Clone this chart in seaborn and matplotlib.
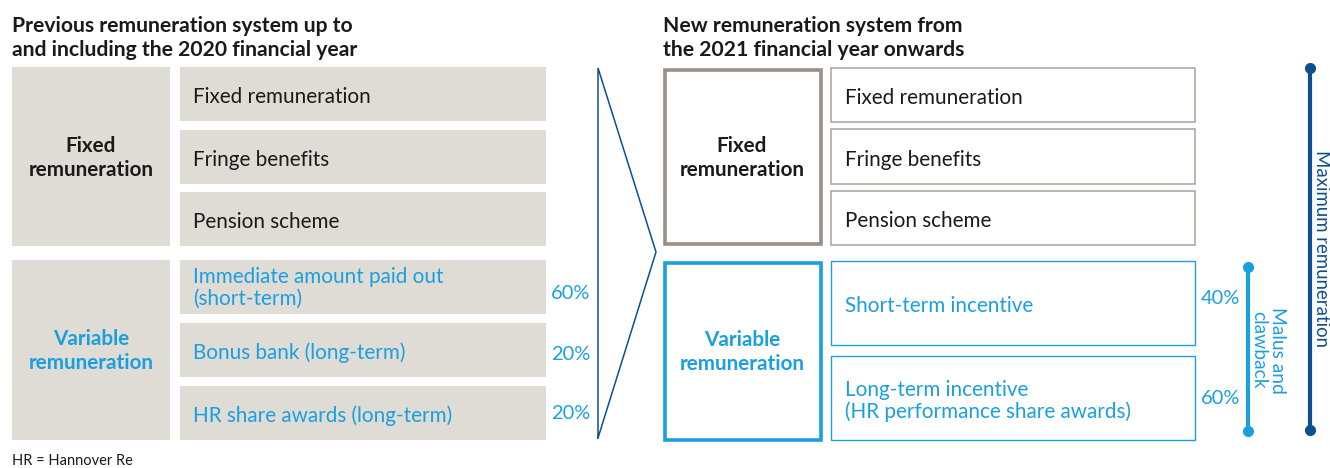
import matplotlib
matplotlib.use("Agg")
import matplotlib.pyplot as plt
import seaborn as sns
from matplotlib.patches import Rectangle

# Data
old_title = "Previous remuneration system up to\nand including the 2020 financial year"
new_title = "New remuneration system from\nthe 2021 financial year onwards"
groups = ["Fixed\nremuneration", "Variable\nremuneration"]
old_fixed = ["Fixed remuneration", "Fringe benefits", "Pension scheme"]
old_variable = ["Immediate amount paid out\n(short-term)", "Bonus bank (long-term)", "HR share awards (long-term)"]
old_variable_share = ["60%", "20%", "20%"]
new_fixed = ["Fixed remuneration", "Fringe benefits", "Pension scheme"]
new_variable = ["Short-term incentive", "Long-term incentive\n(HR performance share awards)"]
new_variable_share = ["40%", "60%"]
malus_label = "Malus and\nclawback"
max_label = "Maximum remuneration"
footnote = "HR = Hannover Re"

sns.set_theme(style="white")
plt.rcParams["font.family"] = ["Lato", "DejaVu Sans"]

GREY = "#dfdbd5"
TEXT = "#1a1a1a"
BLUE = "#1a9fe0"
DARK = "#0d4f8f"
BROWN = "#9a9086"
THIN_GREY = "#a8a29b"

fig = plt.figure(figsize=(13.3, 4.68), dpi=100)
ax = fig.add_axes([0, 0, 1, 1])
ax.set_xlim(0, 1330)
ax.set_ylim(468, 0)
ax.axis("off")

FS = 14.9

# titles
ax.text(12, 38, old_title, fontsize=15.2, fontweight="bold", color=TEXT, va="center", ha="left", linespacing=1.2)
ax.text(663, 38, new_title, fontsize=15.2, fontweight="bold", color=TEXT, va="center", ha="left", linespacing=1.2)

# ---------- left side ----------
sections = [(67, 246, old_fixed, TEXT), (260, 440, old_variable, BLUE)]
for gi, (top, bottom, items, col) in enumerate(sections):
    ax.add_patch(Rectangle((12, top), 158, bottom - top, facecolor=GREY, edgecolor="none"))
    ax.text(91, (top + bottom) / 2 + 1, groups[gi], fontsize=FS, fontweight="bold", color=col,
            ha="center", va="center", linespacing=1.25)
    n = len(items)
    gap = 8.5
    h = (bottom - top - gap * (n - 1)) / n
    for i, lab in enumerate(items):
        y0 = top + i * (h + gap)
        dy = 1 if "\n" in lab else 3
        ax.add_patch(Rectangle((180, y0), 366, h, facecolor=GREY, edgecolor="none"))
        ax.text(193, y0 + h / 2 + dy, lab, fontsize=FS, color=col, ha="left", va="center", linespacing=1.1)
        if gi == 1:
            ax.text(551, y0 + h / 2 + [6, 4, 1][i], old_variable_share[i], fontsize=FS - 0.5, color=BLUE,
                    ha="left", va="center")

# funnel
ax.plot([598, 598, 656, 598], [438, 68, 252, 438], color=DARK, lw=1.1, solid_joinstyle="miter")

# ---------- right side ----------
ax.add_patch(Rectangle((664.5, 69.5), 156, 174, facecolor="white", edgecolor=BROWN, lw=2.6))
ax.text(742, 158, groups[0], fontsize=FS, fontweight="bold", color=TEXT, ha="center", va="center", linespacing=1.25)
ax.add_patch(Rectangle((664.5, 262.5), 156, 177, facecolor="white", edgecolor=BLUE, lw=2.6))
ax.text(742, 352, groups[1], fontsize=FS, fontweight="bold", color=BLUE, ha="center", va="center", linespacing=1.25)

top, bottom = 68, 245
gap = 7
h = (bottom - top - gap * 2) / 3
for i, lab in enumerate(new_fixed):
    y0 = top + i * (h + gap)
    ax.add_patch(Rectangle((831, y0), 364, h, facecolor="white", edgecolor=THIN_GREY, lw=1.1))
    ax.text(845, y0 + h / 2 + 3, lab, fontsize=FS, color=TEXT, ha="left", va="center")

top, bottom = 261, 440
gap = 11
h = (bottom - top - gap) / 2
for i, lab in enumerate(new_variable):
    y0 = top + i * (h + gap)
    ax.add_patch(Rectangle((831, y0), 364, h, facecolor="white", edgecolor=BLUE, lw=1.0))
    ax.text(845, y0 + h / 2 + 3, lab, fontsize=FS, color=BLUE, ha="left", va="center", linespacing=1.1)
    ax.text(1201, y0 + h / 2 - 4 + 4 * i, new_variable_share[i], fontsize=FS - 0.5, color=BLUE, ha="left", va="center")

# malus bracket
ax.plot([1248, 1248], [267, 431], color=BLUE, lw=3, marker="o", markersize=7, solid_capstyle="butt")
ax.text(1268, 350, malus_label, fontsize=FS - 1, color=BLUE, rotation=-90, ha="center", va="center", linespacing=1.15)

# maximum bracket
ax.plot([1310, 1310], [68, 430], color=DARK, lw=3, marker="o", markersize=7, solid_capstyle="butt")
ax.text(1322, 248, max_label, fontsize=FS - 1.5, color=DARK, rotation=-90, ha="center", va="center")

ax.text(12, 461, footnote, fontsize=10.5, color=TEXT, ha="left", va="center")

fig.savefig("out.png", dpi=100)
